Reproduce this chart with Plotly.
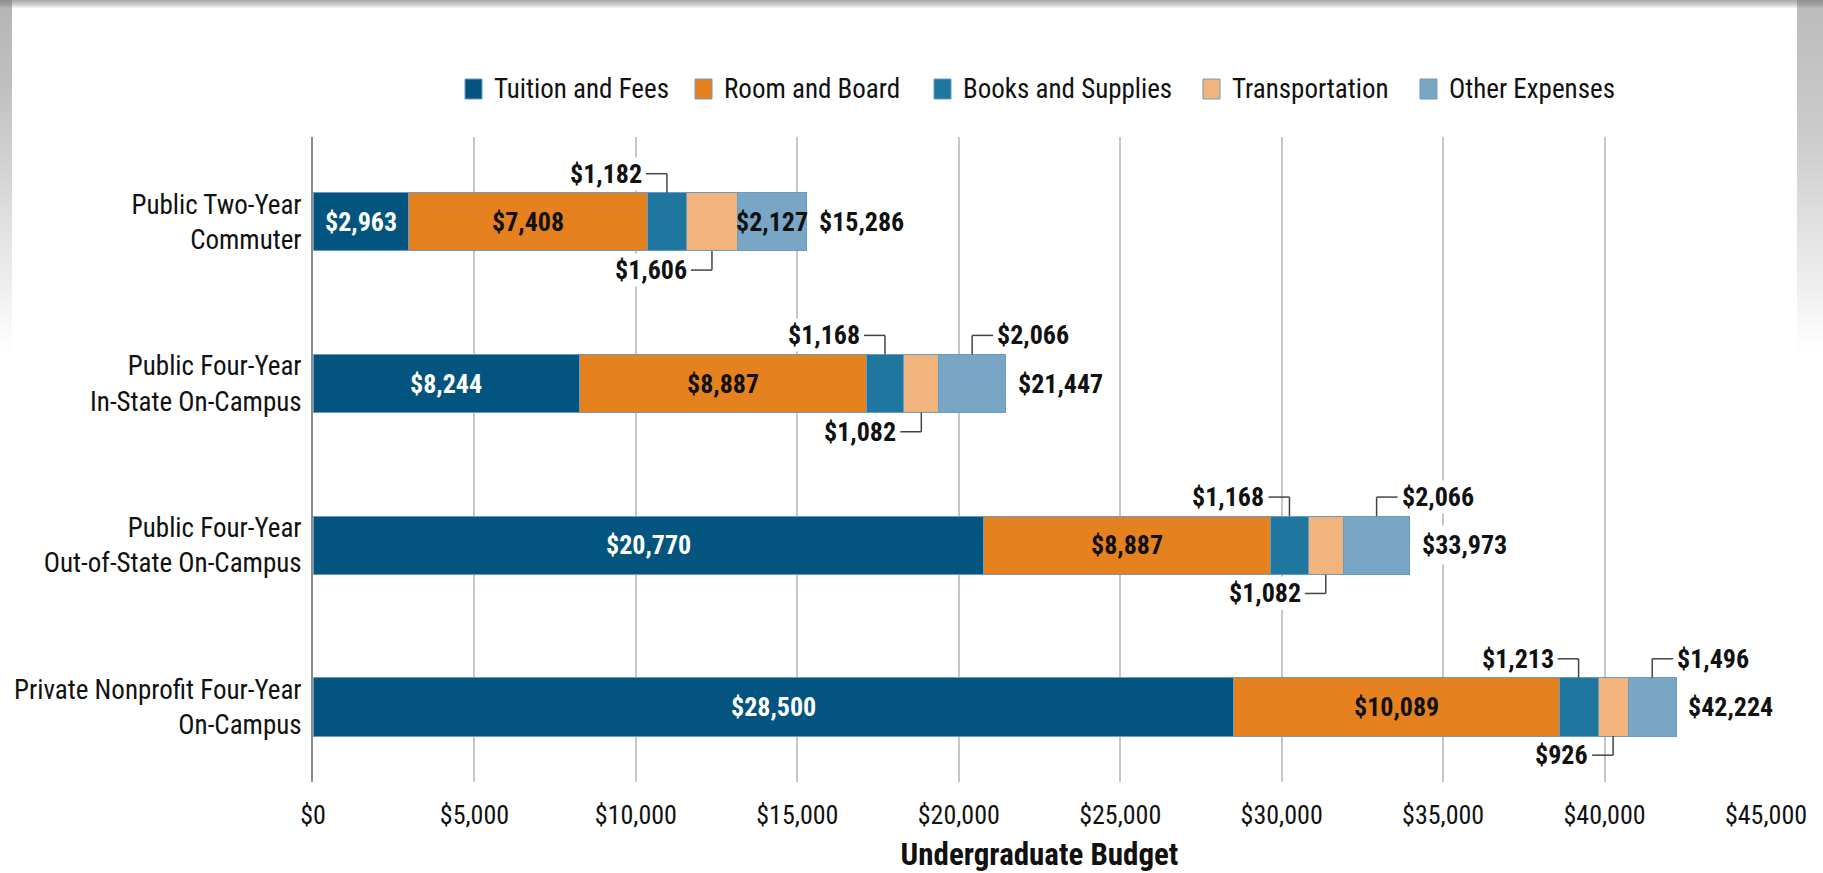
import plotly.graph_objects as go

# ---------------- data ----------------
categories = [
    "Public Two-Year<br>Commuter",
    "Public Four-Year<br>In-State On-Campus",
    "Public Four-Year<br>Out-of-State On-Campus",
    "Private Nonprofit Four-Year<br>On-Campus",
]
series_names = ["Tuition and Fees", "Room and Board", "Books and Supplies",
                "Transportation", "Other Expenses"]
tuition = [2963, 8244, 20770, 28500]
room_board = [7408, 8887, 8887, 10089]
books = [1182, 1168, 1168, 1213]
transport = [1606, 1082, 1082, 926]
other = [2127, 2066, 2066, 1496]
totals = [15286, 21447, 33973, 42224]
x_ticks = [0, 5000, 10000, 15000, 20000, 25000, 30000, 35000, 40000, 45000]
x_tick_labels = ["$0", "$5,000", "$10,000", "$15,000", "$20,000", "$25,000",
                 "$30,000", "$35,000", "$40,000", "$45,000"]
axis_title = "Undergraduate Budget"

# ---------------- style ----------------
colors = ["#03557f", "#e5821f", "#1f77a0", "#f1b47d", "#7aa6c6"]
FONT = "Liberation Sans Narrow, Arial Narrow, Roboto Condensed, sans-serif"
W, H = 1823, 873
L_M, R_M, T_M, B_M = 313, 57, 137, 91
PW, PH = W - L_M - R_M, H - T_M - B_M
BAR_W = 0.36
LEAD_DY = 0.118       # leader vertical length (category units)
LEAD_DX = 650         # leader horizontal length (dollars)
other_inside = [True, False, False, False]
BOLD = 26
TXT = "#111111"

def fmt(v):
    return "${:,}".format(v)

def px_x(px):
    return (px - L_M) / PW

def px_y(py):
    return (H - B_M - py) / PH

series = [tuition, room_board, books, transport, other]
ypos = list(range(len(categories)))

fig = go.Figure()
for name, vals, col in zip(series_names, series, colors):
    fig.add_trace(go.Bar(
        y=ypos, x=vals, name=name, orientation="h", width=BAR_W,
        marker=dict(color=col, line=dict(color="#6b9cbf", width=1)),
        showlegend=False, hoverinfo="x+name",
    ))

annotations = []
shapes = []
lead = dict(color="#444444", width=1.5)

def callout(xc, edge, direction, side, value):
    """direction: -1 above bar, +1 below bar; side: -1 text to the left, +1 to the right"""
    yl = edge + direction * LEAD_DY
    xe = xc + side * LEAD_DX
    shapes.append(dict(type="line", x0=xc, x1=xc, y0=edge, y1=yl, line=lead))
    shapes.append(dict(type="line", x0=xc, x1=xe, y0=yl, y1=yl, line=lead))
    annotations.append(dict(x=xe, y=yl, xanchor="right" if side < 0 else "left",
                            xshift=2 * side, text="<b>" + fmt(value) + "</b>",
                            showarrow=False, bgcolor="white", borderpad=1,
                            font=dict(family=FONT, size=BOLD, color=TXT)))

for i in range(len(categories)):
    base = 0
    bases = []
    for s in series:
        bases.append(base)
        base += s[i]
    top = i - BAR_W / 2
    bot = i + BAR_W / 2
    annotations.append(dict(x=bases[0] + tuition[i] / 2, y=i, text="<b>" + fmt(tuition[i]) + "</b>",
                            showarrow=False, font=dict(family=FONT, size=BOLD, color="white")))
    annotations.append(dict(x=bases[1] + room_board[i] / 2, y=i, text="<b>" + fmt(room_board[i]) + "</b>",
                            showarrow=False, font=dict(family=FONT, size=BOLD, color=TXT)))
    callout(bases[2] + books[i] / 2, top, -1, -1, books[i])
    callout(bases[3] + transport[i] / 2, bot, 1, -1, transport[i])
    if other_inside[i]:
        annotations.append(dict(x=bases[4] + other[i] / 2, y=i, text="<b>" + fmt(other[i]) + "</b>",
                                showarrow=False, font=dict(family=FONT, size=BOLD, color=TXT)))
    else:
        callout(bases[4] + other[i] / 2, top, -1, 1, other[i])
    annotations.append(dict(x=totals[i], y=i, xanchor="left", xshift=7, text="<b>" + fmt(totals[i]) + "</b>",
                            showarrow=False, bgcolor="white", borderpad=4,
                            font=dict(family=FONT, size=BOLD, color=TXT)))

# ---------------- custom legend ----------------
legend_sq_px = [465, 695, 934, 1203, 1420]
for name, col, sx in zip(series_names, colors, legend_sq_px):
    shapes.append(dict(type="rect", xref="paper", yref="paper",
                       x0=px_x(sx), x1=px_x(sx + 17), y0=px_y(99), y1=px_y(79),
                       fillcolor=col, line=dict(color="#6b9cbf", width=1)))
    annotations.append(dict(xref="paper", yref="paper", x=px_x(sx + 27), y=px_y(89),
                            xanchor="left", yanchor="middle", text=name, showarrow=False,
                            font=dict(family=FONT, size=27, color=TXT)))

# ---------------- page shadow decoration ----------------
N = 40
for k in range(1, N + 1):
    yb = 10 + 340 * k / N
    shapes.append(dict(type="rect", xref="paper", yref="paper", layer="below",
                       x0=px_x(1797), x1=px_x(W + 2), y0=px_y(yb), y1=px_y(-2),
                       fillcolor="#808080", opacity=0.02, line=dict(width=0)))
    shapes.append(dict(type="rect", xref="paper", yref="paper", layer="below",
                       x0=px_x(-2), x1=px_x(12), y0=px_y(yb), y1=px_y(-2),
                       fillcolor="#808080", opacity=0.016, line=dict(width=0)))
for k in range(1, 9):
    shapes.append(dict(type="rect", xref="paper", yref="paper", layer="below",
                       x0=px_x(-2), x1=px_x(W + 2), y0=px_y(k), y1=px_y(-2),
                       fillcolor="#7a7a7a", opacity=0.1, line=dict(width=0)))

fig.update_layout(
    width=W, height=H,
    barmode="stack",
    paper_bgcolor="white", plot_bgcolor="white",
    margin=dict(l=L_M, r=R_M, t=T_M, b=B_M, pad=0, autoexpand=False),
    font=dict(family=FONT, color=TXT),
    shapes=shapes, annotations=annotations,
    xaxis=dict(
        range=[0, 45000], tickvals=x_ticks, ticktext=x_tick_labels, automargin=False,
        showgrid=True, gridcolor="#c6c6c6", gridwidth=1.5,
        zeroline=False, showline=False, ticks="", ticklabelstandoff=15,
        tickfont=dict(family=FONT, size=26, color=TXT),
        title=dict(text="<b>" + axis_title + "</b>", standoff=14,
                   font=dict(family=FONT, size=31, color=TXT)),
    ),
    yaxis=dict(
        range=[3.464, -0.525], tickvals=ypos, ticktext=categories, automargin=False,
        showgrid=False, zeroline=False, showline=True, linecolor="#8c8c8c", linewidth=2,
        ticks="", ticklabelstandoff=4,
        tickfont=dict(family=FONT, size=27, color=TXT),
    ),
)

fig.write_html("out.html", config={"displayModeBar": False},
               post_script="document.body.style.margin='0';document.body.style.overflow='hidden';")
